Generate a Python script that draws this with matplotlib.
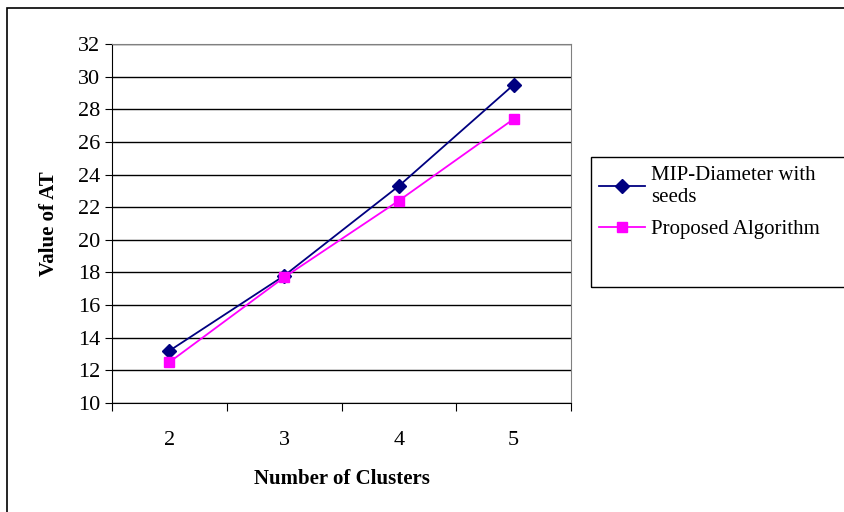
import matplotlib.pyplot as plt
from matplotlib.patches import Rectangle

plt.rcParams['font.family'] = ['Liberation Serif', 'DejaVu Serif']

clusters = ["2", "3", "4", "5"]
mip_seeds = [13.2, 17.8, 23.3, 29.5]
proposed = [12.5, 17.7, 22.4, 27.4]

W, H = 844, 512
fig = plt.figure(figsize=(W / 100, H / 100), dpi=100)

# outer chart frame (open at right/bottom edges)
fig.patches.append(Rectangle((7 / W, -0.1), 1.2, 1 - 8 / H + 0.1,
                             transform=fig.transFigure, fill=False,
                             edgecolor='black', lw=1.2))

ax = fig.add_axes([112 / W, 1 - 403 / H, (571 - 112) / W, (403 - 44) / H])

x = range(len(clusters))
ax.plot(x, mip_seeds, color='#000080', lw=1.3, marker='D', ms=7.5,
        label='MIP-Diameter with\nseeds')
ax.plot(x, proposed, color='#ff00ff', lw=1.3, marker='s', ms=7.5,
        label='Proposed Algorithm')

ax.set_xlim(-0.5, 3.5)
ax.set_ylim(10, 32)
ax.set_yticks(range(10, 33, 2))
ax.set_xticks(x)
ax.set_xticklabels(clusters)
ax.set_xticks([-0.5, 0.5, 1.5, 2.5, 3.5], minor=True)
ax.tick_params(axis='x', which='major', length=0, pad=20, labelsize=16)
ax.tick_params(axis='x', which='minor', length=6, direction='out', width=0.8)
ax.tick_params(axis='y', length=5, direction='out', width=0.8, labelsize=16)

ax.grid(axis='y', color='black', lw=1)
ax.set_axisbelow(True)
for side in ['top', 'right']:
    ax.spines[side].set_color('#808080')
for side in ['left', 'bottom']:
    ax.spines[side].set_color('black')

ax.set_xlabel('Number of Clusters', fontsize=15, fontweight='bold', labelpad=14)
ax.set_ylabel('Value of AT', fontsize=15, fontweight='bold', labelpad=14)

# legend box drawn separately so it keeps its fixed size
fig.patches.append(Rectangle((591 / W, 1 - 287 / H), 0.5, 130 / H,
                             transform=fig.transFigure, fill=False,
                             edgecolor='black', lw=1))
fig.legend(loc='upper left', bbox_to_anchor=(599 / W, 1 - 166 / H),
           fontsize=15, frameon=False, handlelength=2.2, borderpad=0,
           labelspacing=0.6, handletextpad=0.3, borderaxespad=0)

fig.savefig('out.png', dpi=100)
